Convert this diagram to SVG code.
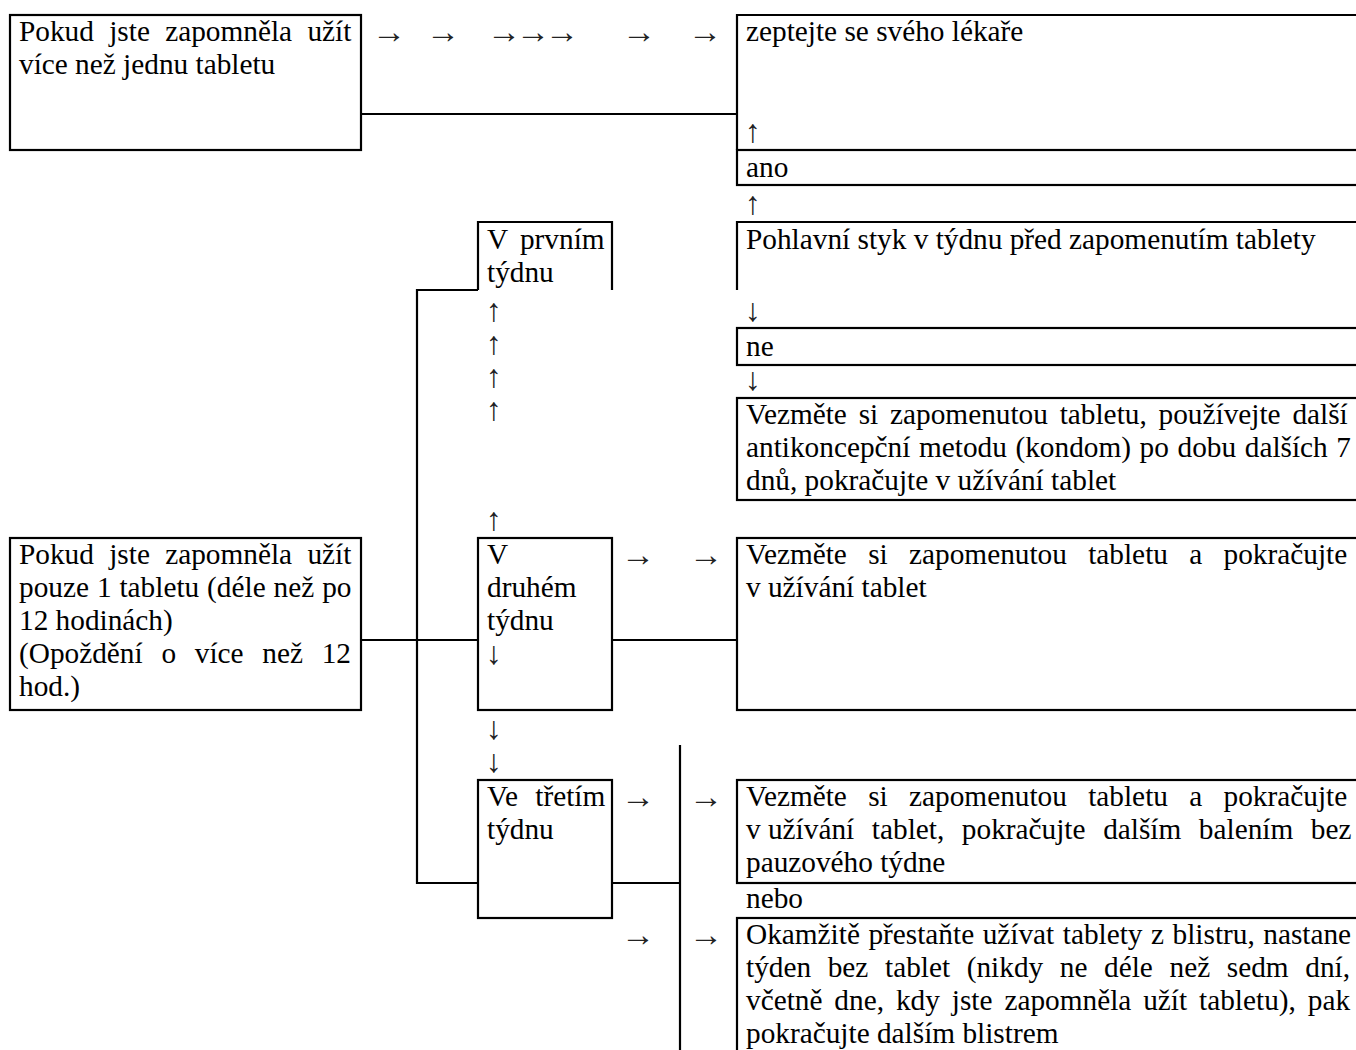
<svg xmlns="http://www.w3.org/2000/svg" width="1356" height="1050" viewBox="0 0 1356 1050">
<style>
text{font-family:"Liberation Serif","Times New Roman",serif;font-size:29.3px;fill:#000}
.ar{font-size:34px;fill:#222}
.av{font-size:32px;fill:#222}
.b{fill:none;stroke:#000;stroke-width:2.2}
.c{fill:none;stroke:#000;stroke-width:2.2}
</style>
<rect width="1356" height="1050" fill="#fff"/>
<g id="connectors">
<path class="c" d="M361,114H737"/>
<path class="c" d="M478,290H417V883H478"/>
<path class="c" d="M361,640H478"/>
<path class="c" d="M612,640H737"/>
<path class="c" d="M612,883H680"/>
<path class="c" d="M680,745V1050"/>
<g id="arrows">
<text class="ar" x="372" y="43">→</text>
<text class="ar" x="426" y="43">→</text>
<text class="ar" x="487" y="43" style="letter-spacing:-5px">→→→</text>
<text class="ar" x="622" y="43">→</text>
<text class="ar" x="688" y="43">→</text>
<text class="av" x="745" y="142">↑</text>
<text class="av" x="745" y="214">↑</text>
<text class="av" x="745" y="321">↓</text>
<text class="av" x="745" y="390">↓</text>
<text class="av" x="486" y="321">↑<tspan x="486" dy="33">↑</tspan><tspan x="486" dy="33">↑</tspan><tspan x="486" dy="33">↑</tspan></text>
<text class="av" x="486" y="530">↑</text>
<text class="ar" x="621" y="566">→</text>
<text class="ar" x="689" y="566">→</text>
<text class="av" x="486" y="739">↓<tspan x="486" dy="33">↓</tspan></text>
<text class="ar" x="621" y="808">→</text>
<text class="ar" x="689" y="808">→</text>
<text class="ar" x="621" y="946">→</text>
<text class="ar" x="689" y="946">→</text>
</g>
</g>
<g id="node-more-tablets">
<rect class="b" x="10" y="15" width="351" height="135"/>
<text x="19" y="41" style="word-spacing:8px">Pokud jste zapomněla užít</text>
<text x="19" y="74">více než jednu tabletu</text>
</g>
<g id="node-ask-doctor">
<path class="b" d="M1360,15H737V150"/>
<text x="746" y="41">zeptejte se svého lékaře</text>
</g>
<g id="node-ano">
<rect class="b" x="737" y="150" width="640" height="35"/>
<text x="746" y="177">ano</text>
</g>
<g id="node-intercourse">
<path class="b" d="M737,290V222H1360"/>
<text x="746" y="249">Pohlavní styk v týdnu před zapomenutím tablety</text>
</g>
<g id="node-ne">
<rect class="b" x="737" y="328" width="640" height="37"/>
<text x="746" y="356">ne</text>
</g>
<g id="node-take-condom">
<rect class="b" x="737" y="398" width="640" height="102"/>
<text x="746" y="424" style="word-spacing:4.5px">Vezměte si zapomenutou tabletu, používejte další</text>
<text x="746" y="457" style="word-spacing:1.3px">antikoncepční metodu (kondom) po dobu dalších 7</text>
<text x="746" y="490">dnů, pokračujte v užívání tablet</text>
</g>
<g id="node-week1">
<path class="b" d="M478,290V222H612V290"/>
<text x="487" y="249" style="word-spacing:5px">V prvním</text>
<text x="487" y="282">týdnu</text>
</g>
<g id="node-one-tablet">
<rect class="b" x="10" y="538" width="351" height="172"/>
<text x="19" y="564" style="word-spacing:8px">Pokud jste zapomněla užít</text>
<text x="19" y="597" style="word-spacing:0.6px">pouze 1 tabletu (déle než po</text>
<text x="19" y="630">12 hodinách)</text>
<text x="19" y="663" style="word-spacing:11.4px">(Opoždění o více než 12</text>
<text x="19" y="696">hod.)</text>
</g>
<g id="node-week2">
<rect class="b" x="478" y="538" width="134" height="172"/>
<text x="487" y="564">V</text>
<text x="487" y="597">druhém</text>
<text x="487" y="630">týdnu</text>
<text class="av" x="486" y="664">↓</text>
</g>
<g id="node-take-continue">
<rect class="b" x="737" y="538" width="640" height="172"/>
<text x="746" y="564" style="word-spacing:14px">Vezměte si zapomenutou tabletu a pokračujte</text>
<text x="746" y="597">v užívání tablet</text>
</g>
<g id="node-week3">
<rect class="b" x="478" y="780" width="134" height="138"/>
<text x="487" y="806" style="word-spacing:10px">Ve třetím</text>
<text x="487" y="839">týdnu</text>
</g>
<g id="node-next-pack">
<rect class="b" x="737" y="780" width="640" height="103"/>
<text x="746" y="806" style="word-spacing:14px">Vezměte si zapomenutou tabletu a pokračujte</text>
<text x="746" y="839" style="word-spacing:10.3px"><tspan style="word-spacing:0">v užívání</tspan> tablet, pokračujte dalším balením bez</text>
<text x="746" y="872">pauzového týdne</text>
</g>
<g id="node-nebo">
<text x="746" y="908">nebo</text>
</g>
<g id="node-stop">
<rect class="b" x="737" y="918" width="640" height="160"/>
<text x="746" y="944" style="word-spacing:1.2px">Okamžitě přestaňte užívat tablety z blistru, nastane</text>
<text x="746" y="977" style="word-spacing:9.3px">týden bez tablet (nikdy ne déle než sedm dní,</text>
<text x="746" y="1010" style="word-spacing:4.6px">včetně dne, kdy jste zapomněla užít tabletu), pak</text>
<text x="746" y="1043">pokračujte dalším blistrem</text>
</g>
</svg>
